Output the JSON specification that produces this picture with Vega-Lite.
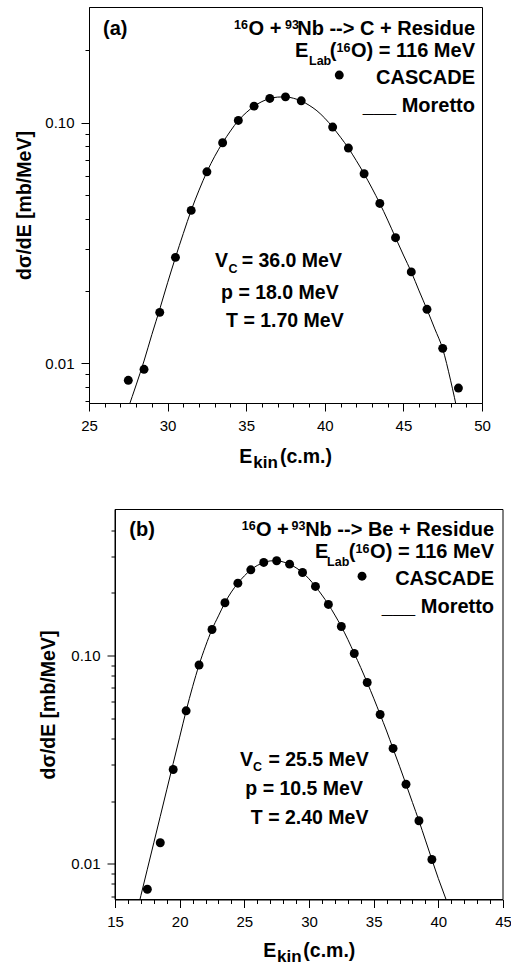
{
  "$schema": "https://vega.github.io/schema/vega-lite/v6.json",
  "padding": {"left": 14, "top": 6, "right": 0, "bottom": 0},
  "background": "white",
  "config": {
    "view": {"stroke": "black", "strokeWidth": 1},
    "axis": {
      "domainColor": "black", "tickColor": "black", "labelColor": "black",
      "labelFont": "Liberation Sans", "labelFontSize": 15,
      "titleFont": "Liberation Sans", "titleFontSize": 19.5, "titleFontWeight": "bold", "titleColor": "black",
      "grid": false, "labelFlush": false, "labelOverlap": false, "labelPadding": 7, "tickWidth": 1, "domainWidth": 1
    },
    "text": {"font": "Liberation Sans", "fontWeight": "bold", "color": "black", "baseline": "alphabetic"}
  },
  "spacing": 36.5,
  "vconcat": [
    {
      "width": 393,
      "height": 396,
      "encoding": {
        "x": {"field": "E", "type": "quantitative",
          "scale": {"domain": [25, 50], "nice": false, "zero": false},
          "axis": {"title": null,
            "values": [25,26,27,28,29,30,31,32,33,34,35,36,37,38,39,40,41,42,43,44,45,46,47,48,49,50],
            "labelExpr": "datum.value % 5 === 0 ? datum.label : ''",
            "tickSize": {"condition": {"test": "datum.value % 5 === 0", "value": 8}, "value": 4}}},
        "y": {"field": "v", "type": "quantitative",
          "scale": {"type": "log", "domain": [0.00684, 0.303], "nice": false},
          "axis": {"title": "dσ/dE [mb/MeV]", "titlePadding": 10,
            "values": [0.007,0.008,0.009,0.01,0.02,0.03,0.04,0.05,0.06,0.07,0.08,0.09,0.1,0.2],
            "labelExpr": "datum.value == 0.1 ? '0.10' : (datum.value == 0.01 ? '0.01' : '')",
            "tickSize": {"condition": {"test": "datum.value == 0.1 || datum.value == 0.01", "value": 8}, "value": 4}}}
      },
      "layer": [
        {
          "data": {"values": [
            {"E": 27.5, "v": 0.00653}, {"E": 28.0, "v": 0.00813}, {"E": 28.5, "v": 0.01023}, {"E": 29.0, "v": 0.01318},
            {"E": 29.5, "v": 0.01679}, {"E": 30.0, "v": 0.02163}, {"E": 30.5, "v": 0.02754}, {"E": 31.0, "v": 0.03467},
            {"E": 31.5, "v": 0.04325}, {"E": 32.0, "v": 0.05248}, {"E": 32.5, "v": 0.06252}, {"E": 33.0, "v": 0.07261},
            {"E": 33.5, "v": 0.0826}, {"E": 34.0, "v": 0.09247}, {"E": 34.5, "v": 0.1023}, {"E": 35.0, "v": 0.1102},
            {"E": 35.5, "v": 0.1172}, {"E": 36.0, "v": 0.1225}, {"E": 36.5, "v": 0.1262}, {"E": 37.0, "v": 0.1279},
            {"E": 37.5, "v": 0.1282}, {"E": 38.0, "v": 0.1265}, {"E": 38.5, "v": 0.1233}, {"E": 39.0, "v": 0.1183},
            {"E": 39.5, "v": 0.1122}, {"E": 40.0, "v": 0.1045}, {"E": 40.5, "v": 0.0959}, {"E": 41.0, "v": 0.0871},
            {"E": 41.5, "v": 0.0785}, {"E": 42.0, "v": 0.0697}, {"E": 42.5, "v": 0.0614}, {"E": 43.0, "v": 0.0535},
            {"E": 43.5, "v": 0.0462}, {"E": 44.0, "v": 0.0394}, {"E": 44.5, "v": 0.0333}, {"E": 45.0, "v": 0.0282},
            {"E": 45.5, "v": 0.024}, {"E": 46.0, "v": 0.02}, {"E": 46.5, "v": 0.01675}, {"E": 47.0, "v": 0.0139},
            {"E": 47.5, "v": 0.01148}, {"E": 48.0, "v": 0.00851}, {"E": 48.5, "v": 0.00603}
          ]},
          "mark": {"type": "line", "color": "black", "strokeWidth": 1, "clip": true, "interpolate": "monotone"}
        },
        {
          "data": {"values": [
            {"E": 27.5, "v": 0.0085}, {"E": 28.5, "v": 0.00944}, {"E": 29.5, "v": 0.01629}, {"E": 30.5, "v": 0.02758},
            {"E": 31.5, "v": 0.04324}, {"E": 32.5, "v": 0.06255}, {"E": 33.5, "v": 0.0826}, {"E": 34.5, "v": 0.1023},
            {"E": 35.5, "v": 0.1173}, {"E": 36.5, "v": 0.1263}, {"E": 37.5, "v": 0.1282}, {"E": 38.5, "v": 0.1234},
            {"E": 40.5, "v": 0.096}, {"E": 41.5, "v": 0.0785}, {"E": 42.5, "v": 0.0614}, {"E": 43.5, "v": 0.0462},
            {"E": 44.5, "v": 0.0333}, {"E": 45.5, "v": 0.024}, {"E": 46.5, "v": 0.01677}, {"E": 47.5, "v": 0.01154},
            {"E": 48.5, "v": 0.00789},
            {"E": 40.92, "v": 0.1579}
          ]},
          "mark": {"type": "point", "filled": true, "size": 80, "color": "black", "opacity": 1}
        },
        {
          "data": {"values": [
            {"E": 25.89, "v": 0.2326, "t": "(a)"},
            {"E": 35.15, "v": 0.2326, "t": "O +"},
            {"E": 38.10, "v": 0.1875, "t": "E"},
            {"E": 40.32, "v": 0.1875, "t": "("}
          ]},
          "mark": {"type": "text", "align": "left", "fontSize": 20},
          "encoding": {"text": {"field": "t"}}
        },
        {
          "data": {"values": [
            {"E": 49.555, "v": 0.2326, "t": "Nb --> C + Residue"},
            {"E": 49.555, "v": 0.1875, "t": "O) = 116 MeV"},
            {"E": 49.555, "v": 0.1444, "t": "CASCADE"},
            {"E": 49.555, "v": 0.1108, "t": "___ Moretto"}
          ]},
          "mark": {"type": "text", "align": "right", "fontSize": 20},
          "encoding": {"text": {"field": "t"}}
        },
        {
          "data": {"values": [
            {"E": 33.02, "v": 0.02513, "t": "V"},
            {"E": 34.71, "v": 0.02513, "t": "= 36.0 MeV"},
            {"E": 33.40, "v": 0.01851, "t": "p = 18.0 MeV"},
            {"E": 33.72, "v": 0.01416, "t": "T = 1.70 MeV"},
            {"E": 34.56, "v": 0.003851, "t": "E"},
            {"E": 37.15, "v": 0.003851, "t": "(c.m.)"}
          ]},
          "mark": {"type": "text", "align": "left", "fontSize": 19.5},
          "encoding": {"text": {"field": "t"}}
        },
        {
          "data": {"values": [
            {"E": 34.23, "v": 0.2451, "t": "16"},
            {"E": 37.47, "v": 0.2451, "t": "93"},
            {"E": 38.995, "v": 0.1745, "t": "Lab"},
            {"E": 40.74, "v": 0.1976, "t": "16"},
            {"E": 33.87, "v": 0.02384, "t": "C"}
          ]},
          "mark": {"type": "text", "align": "left", "fontSize": 12.5},
          "encoding": {"text": {"field": "t"}}
        },
        {
          "data": {"values": [
            {"E": 35.45, "v": 0.003672, "t": "kin"}
          ]},
          "mark": {"type": "text", "align": "left", "fontSize": 17},
          "encoding": {"text": {"field": "t"}}
        }
      ]
    },
    {
      "width": 414,
      "height": 390,
      "view": {"stroke": null},
      "encoding": {
        "x": {"field": "E", "type": "quantitative",
          "scale": {"domain": [15, 45], "range": [26, 414], "nice": false, "zero": false},
          "axis": {"title": null,
            "values": [15,16,17,18,19,20,21,22,23,24,25,26,27,28,29,30,31,32,33,34,35,36,37,38,39,40,41,42,43,44,45],
            "labelExpr": "datum.value % 5 === 0 ? datum.label : ''",
            "tickSize": {"condition": {"test": "datum.value % 5 === 0", "value": 8}, "value": 4}}},
        "y": {"field": "v", "type": "quantitative",
          "scale": {"type": "log", "domain": [0.00674, 0.502], "nice": false},
          "axis": {"title": "dσ/dE [mb/MeV]", "titlePadding": 12, "offset": -26,
            "values": [0.007,0.008,0.009,0.01,0.02,0.03,0.04,0.05,0.06,0.07,0.08,0.09,0.1,0.2,0.3,0.4],
            "labelExpr": "datum.value == 0.1 ? '0.10' : (datum.value == 0.01 ? '0.01' : '')",
            "tickSize": {"condition": {"test": "datum.value == 0.1 || datum.value == 0.01", "value": 8}, "value": 4}}}
      },
      "layer": [
        {
          "data": {"values": [{"E": 15, "E2": 45, "v": 0.00674, "v2": 0.502}]},
          "mark": {"type": "rect", "fill": null, "stroke": "black", "strokeWidth": 1},
          "encoding": {"x2": {"field": "E2"}, "y2": {"field": "v2"}}
        },
        {
          "data": {"values": [
            {"E": 16.5, "v": 0.00524}, {"E": 17.0, "v": 0.00703}, {"E": 17.5, "v": 0.00942}, {"E": 18.0, "v": 0.01262},
            {"E": 18.5, "v": 0.0169}, {"E": 19.0, "v": 0.02265}, {"E": 19.5, "v": 0.03034}, {"E": 20.0, "v": 0.04055},
            {"E": 20.5, "v": 0.05426}, {"E": 21.0, "v": 0.0708}, {"E": 21.5, "v": 0.0901}, {"E": 22.0, "v": 0.1109},
            {"E": 22.5, "v": 0.1334}, {"E": 23.0, "v": 0.1549}, {"E": 23.5, "v": 0.1791}, {"E": 24.0, "v": 0.2018},
            {"E": 24.5, "v": 0.2223}, {"E": 25.0, "v": 0.241}, {"E": 25.5, "v": 0.2576}, {"E": 26.0, "v": 0.2704},
            {"E": 26.5, "v": 0.2793}, {"E": 27.0, "v": 0.2844}, {"E": 27.5, "v": 0.2851}, {"E": 28.0, "v": 0.2812},
            {"E": 28.5, "v": 0.2742}, {"E": 29.0, "v": 0.2636}, {"E": 29.5, "v": 0.25}, {"E": 30.0, "v": 0.2333},
            {"E": 30.5, "v": 0.2143}, {"E": 31.0, "v": 0.195}, {"E": 31.5, "v": 0.1758}, {"E": 32.0, "v": 0.1563},
            {"E": 32.5, "v": 0.1377}, {"E": 33.0, "v": 0.1194}, {"E": 33.5, "v": 0.1023}, {"E": 34.0, "v": 0.0875},
            {"E": 34.5, "v": 0.0741}, {"E": 35.0, "v": 0.0624}, {"E": 35.5, "v": 0.0521}, {"E": 36.0, "v": 0.0434},
            {"E": 36.5, "v": 0.0357}, {"E": 37.0, "v": 0.0294}, {"E": 37.5, "v": 0.0241}, {"E": 38.0, "v": 0.0197},
            {"E": 38.5, "v": 0.0161}, {"E": 39.0, "v": 0.013}, {"E": 39.5, "v": 0.0105}, {"E": 40.0, "v": 0.0085},
            {"E": 40.6, "v": 0.00674}, {"E": 41.0, "v": 0.0057}
          ]},
          "mark": {"type": "line", "color": "black", "strokeWidth": 1, "clip": true, "interpolate": "monotone"}
        },
        {
          "data": {"values": [
            {"E": 17.5, "v": 0.00755}, {"E": 18.5, "v": 0.01262}, {"E": 19.5, "v": 0.02836}, {"E": 20.5, "v": 0.05426},
            {"E": 21.5, "v": 0.09}, {"E": 22.5, "v": 0.1333}, {"E": 23.5, "v": 0.1791}, {"E": 24.5, "v": 0.2224},
            {"E": 25.5, "v": 0.2578}, {"E": 26.5, "v": 0.2796}, {"E": 27.5, "v": 0.2848}, {"E": 28.5, "v": 0.2744},
            {"E": 29.5, "v": 0.2503}, {"E": 30.5, "v": 0.2145}, {"E": 31.5, "v": 0.1758}, {"E": 32.5, "v": 0.1377},
            {"E": 33.5, "v": 0.1022}, {"E": 34.5, "v": 0.0742}, {"E": 35.5, "v": 0.0521}, {"E": 36.5, "v": 0.0358},
            {"E": 37.5, "v": 0.0241}, {"E": 38.5, "v": 0.0161}, {"E": 39.5, "v": 0.01049},
            {"E": 34.10, "v": 0.2402}
          ]},
          "mark": {"type": "point", "filled": true, "size": 80, "color": "black", "opacity": 1}
        },
        {
          "data": {"values": [
            {"E": 16.11, "v": 0.3748, "t": "(b)"},
            {"E": 25.9, "v": 0.3748, "t": "O +"},
            {"E": 30.47, "v": 0.2932, "t": "E"},
            {"E": 33.08, "v": 0.2932, "t": "("}
          ]},
          "mark": {"type": "text", "align": "left", "fontSize": 20},
          "encoding": {"text": {"field": "t"}}
        },
        {
          "data": {"values": [
            {"E": 44.31, "v": 0.3748, "t": "Nb --> Be + Residue"},
            {"E": 44.31, "v": 0.2932, "t": "O) = 116 MeV"},
            {"E": 44.31, "v": 0.2168, "t": "CASCADE"},
            {"E": 44.31, "v": 0.1596, "t": "___ Moretto"}
          ]},
          "mark": {"type": "text", "align": "right", "fontSize": 20},
          "encoding": {"text": {"field": "t"}}
        },
        {
          "data": {"values": [
            {"E": 24.67, "v": 0.02963, "t": "V"},
            {"E": 26.86, "v": 0.02963, "t": "= 25.5 MeV"},
            {"E": 25.08, "v": 0.02128, "t": "p = 10.5 MeV"},
            {"E": 25.50, "v": 0.01556, "t": "T = 2.40 MeV"},
            {"E": 26.47, "v": 0.003589, "t": "E"},
            {"E": 29.56, "v": 0.003589, "t": "(c.m.)"}
          ]},
          "mark": {"type": "text", "align": "left", "fontSize": 19.5},
          "encoding": {"text": {"field": "t"}}
        },
        {
          "data": {"values": [
            {"E": 24.80, "v": 0.3982, "t": "16"},
            {"E": 28.65, "v": 0.3982, "t": "93"},
            {"E": 31.40, "v": 0.2698, "t": "Lab"},
            {"E": 33.60, "v": 0.3114, "t": "16"},
            {"E": 25.67, "v": 0.0279, "t": "C"}
          ]},
          "mark": {"type": "text", "align": "left", "fontSize": 12.5},
          "encoding": {"text": {"field": "t"}}
        },
        {
          "data": {"values": [
            {"E": 27.53, "v": 0.003378, "t": "kin"}
          ]},
          "mark": {"type": "text", "align": "left", "fontSize": 17},
          "encoding": {"text": {"field": "t"}}
        }
      ]
    }
  ]
}
